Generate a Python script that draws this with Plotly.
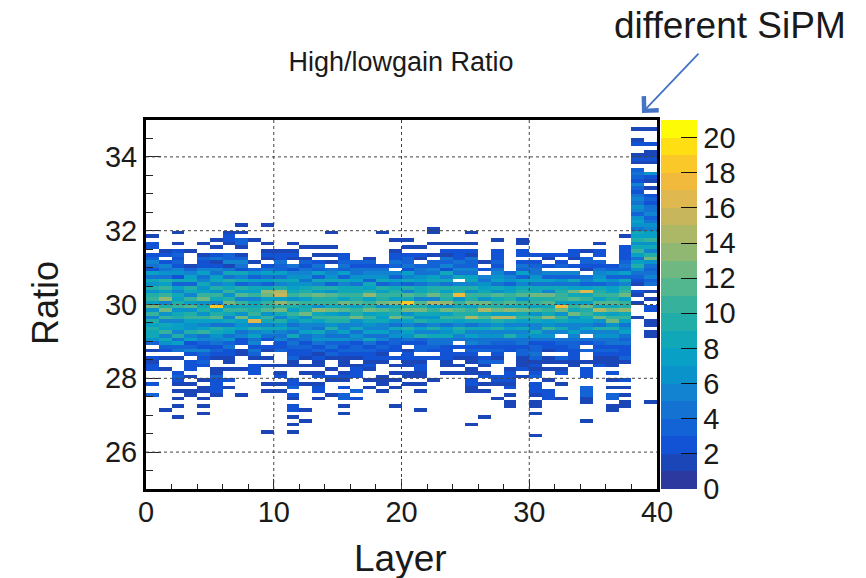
import plotly.graph_objects as go

# Counts per layer. One character per 0.1-wide ratio bin,
# starting at ratio 32.4 and going down to 26.4. "." = empty, 1-9 then a=10 ... k=20.
counts_low_layers = [
    ".....1.22. 2354274869 69a7c6a597 98863.1.21 22...2..3. ..........",
    ".........1 2.2546497a 7ad59c6a58 7a58632.1. .1........ ..1.......",
    "....1..1.2 3232562837 5879a68957 7594734.1. ..2321.1.1 .1..1.....",
    ".........1 ...1357839 85a7b69a76 69572352.2 22.1.1.11. ..........",
    ".......1.. 1322574586 7ac6896a75 7a45325 32".replace(" ", "") + " 32...1.11. 1.1.1.....",
    "......1.1. 2412547859 6a85i79b74 986542321. .11322221. ..........",
    "....1221.. 3351484968 a69c7a8584 8746342211 .1..2.1... ..........",
    "..1.1.331. 1354285839 7b5a8a6c76 74522.11.. .1......1. ..........",
    "......1... ..1.363748 7a5889a7g5 957452431. 222....... ..........",
    "..1....1.1 21.2474738 dc7a9b6a85 8642.21.1. 1....1.1.. ........1.",
    ".........1 2243374859 ef7d9c8596 8545223... 1.12.1.1.. ..........",
    ".......1.1 21.4256867 8a6b97a864 6483432231 1...223.21 .22.1.1.1.",
    "........1. .132456468 9b7a89c685 574423221. 1.1..1.... ..1..1....",
    "........1. 1.24373859 7c9a6d8a75 4856423121 1.12.122.1 ..........",
    "....1...1. 1.1.456839 6b9a8c7a96 954634231. .1.21...1. ..........",
    ".......... 2234373858 8a7c8b6a95 5746323211 1.121.2.33 .1.1......",
    ".......... ..32446748 8a9b7a9c65 846523321. 1222...3.2 ..........",
    ".......... .132456387 9d7a9c7a86 5748423221 21..1.1... ..........",
    "....1..... ...2456839 7a9c6b8785 5745232121 ...111.1.. ..........",
    "......1..1 2243.53748 9a7d8a9c64 8563322.2. 1.1.1.1... .1........",
    "......1.1. 2334275839 5b8i9c6a75 97642.1221 1.11.1.... ..........",
    "........1. 21.3446748 8a5b9c8694 7593233.21 2211.1.1.. ..1.......",
    "...11..1.. 1.33547859 9c5e7a8685 9584432.2. ....1..... ..........",
    ".......1.2 1435285849 7a9d6c7a84 7684422221 1.1....... ..........",
    ".......1.2 2243548.59 9h6a8b9a75 9854.2.21. 1.1....... ..........",
    "....1..1.2 1433547859 6a9c7a9e84 8574523211 .11.2211.. ......1...",
    ".......... ..1.2.5467 8a6c9e8b85 8564423.23 1.12.1.1.. ....1.....",
    "......1..2 2232456748 6b8a9c7e96 9564323213 ...221...1 ..........",
    ".......... .....35637 7a9b8d7e85 7594322... .122212.1. 11........",
    "......11.2 2.24373758 9b6a8c8a75 8564423311 12.1...... ..........",
    ".......... 2.23446748 8c9a7b6a85 5864233431 2123.2221. 11.1.....1",
    ".......... 21.2.53748 5c9b8a8d76 a564221.11 .1..1..222 ..........",
    ".......... 2.23.53648 9aa7hc6a85 85.4322.31 .12..1...1 ..........",
    ".........2 21.2.53847 c8b7a8c675 5754332221 1......... ..........",
    ".........1 .3321.4537 g8a7c9a875 75.42.3..1 .222..3331 1....1....",
    ".......1.2 2.32456738 9a7b8e8c64 9564323211 2......... ..........",
    ".......... ...2363647 7a9b8c7ac6 9564423211 1.2.1.1.33 .11.......",
    ".....1..22 2234373859 ac7a9d8a74 6743422231 ....2.1.1. 11........",
]
# The last two layers reach higher: same code, starting at ratio 34.9.
counts_layer_38 = ".1..12..12 1.34325324 5465367648 7968a74796 4321.21.1. ..1......."
counts_layer_39 = ".1...2.112 1..621.1.2 3244534657 7a6859c643 4534.1.1.2 2..11.11.. .......... .....1...."

COUNT_CODE = "123456789abcdefghijk"

x_tick_values = [0, 10, 20, 30, 40]
y_tick_values = [26, 28, 30, 32, 34]
colorbar_ticks = [0, 2, 4, 6, 8, 10, 12, 14, 16, 18, 20]
bird_levels = [
    "#2c399f", "#1a46b8", "#1252d4", "#1463d6", "#1473d2", "#1283d0", "#0a92ca", "#08a0c4",
    "#10a8b8", "#22aea8", "#36b29c", "#52b68e", "#70b882", "#90b873", "#acb866", "#c8b65c",
    "#e0b850", "#f2ba3c", "#fbc82a", "#ffde14", "#fdfb06",
]
Z_MIN, Z_MAX = 0, 21
RATIO_TOP = 35.0
BIN = 0.1
N_ROWS = 100


def decode(text, top):
    text = text.replace(" ", "")
    offset = round((RATIO_TOP - top) / BIN)
    col = [None] * N_ROWS
    for i, ch in enumerate(text):
        row_from_top = offset + i
        if ch != "." and row_from_top < N_ROWS:
            col[N_ROWS - 1 - row_from_top] = COUNT_CODE.index(ch) + 1
    return col


columns = [decode(s, 32.4) for s in counts_low_layers]
columns.append(decode(counts_layer_38, 34.9))
columns.append(decode(counts_layer_39, 34.9))
n_layers = len(columns)
z = [[columns[c][r] for c in range(n_layers)] for r in range(N_ROWS)]
x_centers = [c + 0.5 for c in range(n_layers)]
y_centers = [round(25 + BIN * (r + 0.5), 2) for r in range(N_ROWS)]

n = len(bird_levels)
scale = []
for i, col in enumerate(bird_levels):
    scale.append([i / n, col])
    scale.append([(i + 1) / n, col])

FONT = "Liberation Sans"
INK = "#1a1a1a"

fig = go.Figure(go.Heatmap(
    x=x_centers, y=y_centers, z=z, zmin=Z_MIN, zmax=Z_MAX, colorscale=scale,
    hoverongaps=False,
    colorbar=dict(
        x=(661 - 146) / 511, y=0, xanchor="left", yanchor="bottom",
        thickness=36, thicknessmode="pixels", len=1, lenmode="fraction",
        outlinewidth=0, xpad=0, ypad=0,
        tickmode="array", tickvals=colorbar_ticks,
        ticks="inside", ticklen=16, tickwidth=1, tickcolor="#111",
        tickfont=dict(size=29, color=INK, family=FONT),
    ),
))

for v in x_tick_values[1:-1]:
    fig.add_shape(type="line", xref="x", yref="paper", x0=v, x1=v, y0=0, y1=1, layer="above",
                  line=dict(color="#444", width=1, dash="dot"))
for v in y_tick_values:
    fig.add_shape(type="line", xref="paper", yref="y", x0=0, x1=1, y0=v, y1=v, layer="above",
                  line=dict(color="#444", width=1, dash="dot"))

axis_font = dict(size=29, color=INK, family=FONT)
fig.update_xaxes(
    range=[0, 40], tickmode="array", tickvals=x_tick_values, ticks="inside", ticklen=10, tickwidth=1,
    tickcolor="#222", tickfont=axis_font, showgrid=False, zeroline=False, ticklabelstandoff=-5,
    showline=True, linecolor="black", linewidth=3, mirror=True, automargin=False,
    minor=dict(dtick=2, ticks="inside", ticklen=5, tickwidth=1, tickcolor="#222", showgrid=False),
)
fig.update_yaxes(
    range=[25, 35], tickmode="array", tickvals=y_tick_values, ticks="inside", ticklen=15, tickwidth=1,
    tickcolor="#222", tickfont=axis_font, showgrid=False, zeroline=False,
    showline=True, linecolor="black", linewidth=3, mirror=True, automargin=False,
    minor=dict(dtick=0.5, ticks="inside", ticklen=7, tickwidth=1, tickcolor="#222", showgrid=False),
)

fig.update_layout(
    width=866, height=578, autosize=False,
    margin=dict(l=146, r=209, t=120, b=89),
    paper_bgcolor="white", plot_bgcolor="white",
    title=dict(text="High/lowgain Ratio", x=401 / 866, y=1 - 62 / 578, xanchor="center", yanchor="middle",
               xref="container", yref="container",
               font=dict(size=27, color=INK, family=FONT)),
    annotations=[
        dict(text="different SiPM", xref="paper", yref="paper", x=(729.5 - 146) / 511, y=(489 - 26) / 369,
             xanchor="center", yanchor="middle", showarrow=False,
             font=dict(size=37, color=INK, family=FONT)),
        dict(text="Layer", xref="paper", yref="paper", x=(400 - 146) / 511, y=(489 - 558) / 369,
             xanchor="center", yanchor="middle", showarrow=False,
             font=dict(size=37, color=INK, family=FONT)),
        dict(text="Ratio", xref="paper", yref="paper", x=(45 - 146) / 511, y=(489 - 303) / 369, textangle=-90,
             xanchor="center", yanchor="middle", showarrow=False,
             font=dict(size=36, color=INK, family=FONT)),
        dict(text="&nbsp;", xref="paper", yref="paper", x=(642 - 146) / 511, y=(489 - 113) / 369,
             ax=58, ay=-61, axref="pixel", ayref="pixel",
             font=dict(size=1), showarrow=True, arrowhead=4, arrowsize=2.2, arrowwidth=1.8, arrowcolor="#4472c4"),
    ],
)

fig.write_html("out.html", config={"displayModeBar": False}, post_script="document.body.style.margin='0';")
